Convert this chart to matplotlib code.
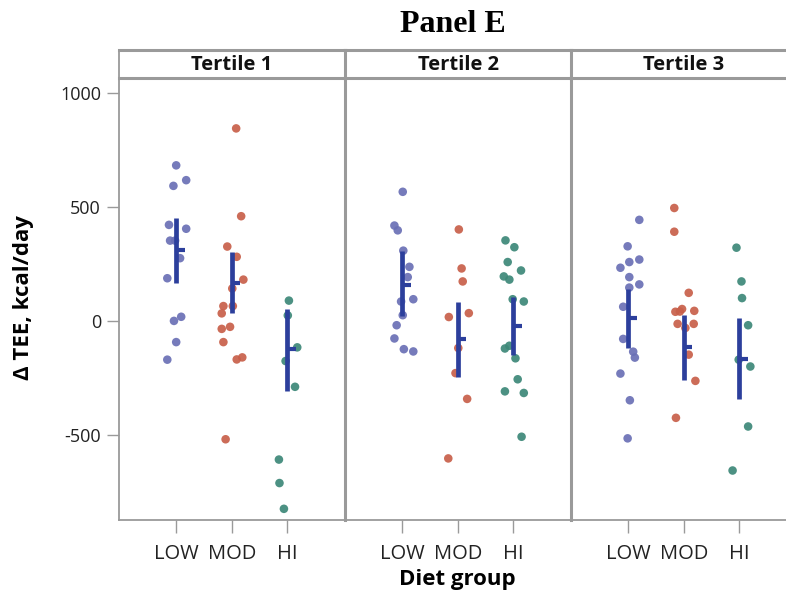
import numpy as np
import matplotlib
matplotlib.use("Agg")
import matplotlib.pyplot as plt

# ---------------- data ----------------
categories = ["LOW", "MOD", "HI"]
tertiles = ["Tertile 1", "Tertile 2", "Tertile 3"]
yticks = [1000, 500, 0, -500]
ytick_labels = ["1000", "500", "0", "-500"]

# Tertile 1
t1_low = [681, 616, 591, 420, 403, 351, 351, 274, 186, 17, -1, -94, -171]
t1_low_jit = [0.0, 0.18, -0.05, -0.13, 0.18, -0.11, -0.02, 0.07, -0.16, 0.09, -0.04, 0.0, -0.16]
t1_mod = [843, 458, 325, 280, 180, 141, 64, 64, 32, -36, -27, -94, -170, -161, -520]
t1_mod_jit = [0.08, 0.17, -0.08, 0.09, 0.21, 0.01, -0.15, 0.02, -0.18, -0.18, -0.03, -0.15, 0.09, 0.19, -0.11]
t1_hi = [88, 23, -117, -177, -290, -609, -712, -825]
t1_hi_jit = [0.03, 0.01, 0.18, -0.03, 0.14, -0.15, -0.14, -0.06]
t1_mean = [310, 167, -125]
t1_lo = [167, 32, -307]
t1_hi_ci = [449, 300, 50]

# Tertile 2
t2_low = [565, 417, 396, 307, 236, 191, 94, 84, 24, -20, -78, -125, -135]
t2_low_jit = [0.01, -0.14, -0.08, 0.02, 0.13, 0.10, 0.20, -0.02, 0.01, -0.10, -0.14, 0.03, 0.20]
t2_mod = [400, 229, 172, 33, 16, -120, -230, -343, -604]
t2_mod_jit = [0.02, 0.07, 0.09, 0.20, -0.16, 0.01, -0.04, 0.17, -0.17]
t2_hi = [352, 322, 257, 220, 194, 180, 94, 84, -122, -110, -165, -257, -310, -317, -509]
t2_hi_jit = [-0.14, 0.02, -0.10, 0.14, -0.17, -0.07, -0.01, 0.19, -0.15, -0.07, 0.04, 0.08, -0.15, 0.19, 0.15]
t2_mean = [157, -80, -22]
t2_lo = [22, -248, -152]
t2_hi_ci = [307, 80, 104]

# Tertile 3
t3_low = [442, 326, 268, 257, 232, 191, 159, 145, 61, -80, -136, -162, -232, -349, -516]
t3_low_jit = [0.20, -0.01, 0.20, 0.02, -0.14, 0.02, 0.20, 0.02, -0.09, -0.09, 0.09, 0.12, -0.14, 0.03, -0.01]
t3_mod = [494, 390, 122, 51, 43, 40, 39, -14, -14, -32, -149, -264, -426]
t3_mod_jit = [-0.17, -0.17, 0.09, -0.03, 0.19, -0.07, -0.15, -0.11, 0.18, 0.03, 0.09, 0.21, -0.14]
t3_hi = [320, 172, 99, -20, -171, -201, -464, -657]
t3_hi_jit = [-0.05, 0.04, 0.05, 0.16, -0.01, 0.20, 0.16, -0.12]
t3_mean = [12, -116, -167]
t3_lo = [-119, -261, -345]
t3_hi_ci = [138, 26, 10]

# ---------------- styling ----------------
point_colors = ["#6a70b5", "#c8604a", "#3d8878"]
bar_color = "#2c3f9c"
frame_gray = "#9a9a9a"
sans = ["Open Sans", "DejaVu Sans"]

panels = [
    ([t1_low, t1_mod, t1_hi], [t1_low_jit, t1_mod_jit, t1_hi_jit], t1_mean, t1_lo, t1_hi_ci),
    ([t2_low, t2_mod, t2_hi], [t2_low_jit, t2_mod_jit, t2_hi_jit], t2_mean, t2_lo, t2_hi_ci),
    ([t3_low, t3_mod, t3_hi], [t3_low_jit, t3_mod_jit, t3_hi_jit], t3_mean, t3_lo, t3_hi_ci),
]

W, H = 786, 598
fig = plt.figure(figsize=(W / 100, H / 100), dpi=100)
fig.patch.set_facecolor("white")

left0 = 119
pw = 226
top_px, bot_px = 78, 520
strip_top = 50

for k, (vals, jits, mean, lo, hi) in enumerate(panels):
    x0 = left0 + k * pw
    ax = fig.add_axes([x0 / W, 1 - bot_px / H, pw / W, (bot_px - top_px) / H])
    for i in range(3):
        xs = i + np.asarray(jits[i])
        ax.scatter(xs, vals[i], s=38, color=point_colors[i], alpha=0.92,
                   edgecolors="none", zorder=3)
    xc = np.arange(3)
    ax.vlines(xc, lo, hi, color=bar_color, linewidth=3.4, zorder=4)
    ax.hlines(mean, xc, xc + 0.15, color=bar_color, linewidth=3.0, zorder=4)

    ax.set_xlim(-1.03, 3.04)
    ax.set_ylim(-874, 1064)
    ax.set_xticks(xc)
    ax.set_xticklabels(categories, fontfamily=sans, fontsize=14.5, color="#222222")
    ax.tick_params(axis="x", length=9, width=1.0, color=frame_gray, pad=8)
    if k == 0:
        ax.set_yticks(yticks)
        ax.set_yticklabels(ytick_labels, fontfamily=sans, fontsize=13, color="#222222")
        ax.tick_params(axis="y", length=9, width=1.0, color=frame_gray, pad=4)
        ax.spines["left"].set_linewidth(1.3)
    else:
        ax.set_yticks([])
        ax.spines["left"].set_linewidth(2.2)
    for s in ["left", "bottom", "right", "top"]:
        ax.spines[s].set_color(frame_gray)
    ax.spines["bottom"].set_linewidth(1.3)
    ax.spines["right"].set_visible(False)
    ax.spines["top"].set_visible(False)

    # strip
    sax = fig.add_axes([x0 / W, 1 - top_px / H, pw / W, (top_px - strip_top) / H])
    sax.set_xticks([])
    sax.set_yticks([])
    for s in ["left", "bottom", "right", "top"]:
        sax.spines[s].set_color(frame_gray)
        sax.spines[s].set_linewidth(2.2)
    sax.spines["right"].set_visible(False)
    if k == 0:
        sax.spines["left"].set_linewidth(1.3)
    sax.text(0.5, 0.46, tertiles[k], transform=sax.transAxes, ha="center", va="center",
             fontfamily=sans, fontweight="bold", fontsize=14.5, color="#111111")

fig.text(453 / W, 1 - 25 / H, "Panel E", ha="center", va="center",
         fontfamily=["Liberation Serif", "DejaVu Serif"], fontweight="bold", fontsize=23)
fig.text(457 / W, 1 - 580 / H, "Diet group", ha="center", va="center",
         fontfamily=sans, fontweight="bold", fontsize=16)
fig.text(24 / W, 1 - 298 / H, "Δ TEE, kcal/day", ha="center", va="center", rotation=90,
         fontfamily=sans, fontweight="bold", fontsize=16)

fig.savefig("out.png", dpi=100, facecolor="white")
